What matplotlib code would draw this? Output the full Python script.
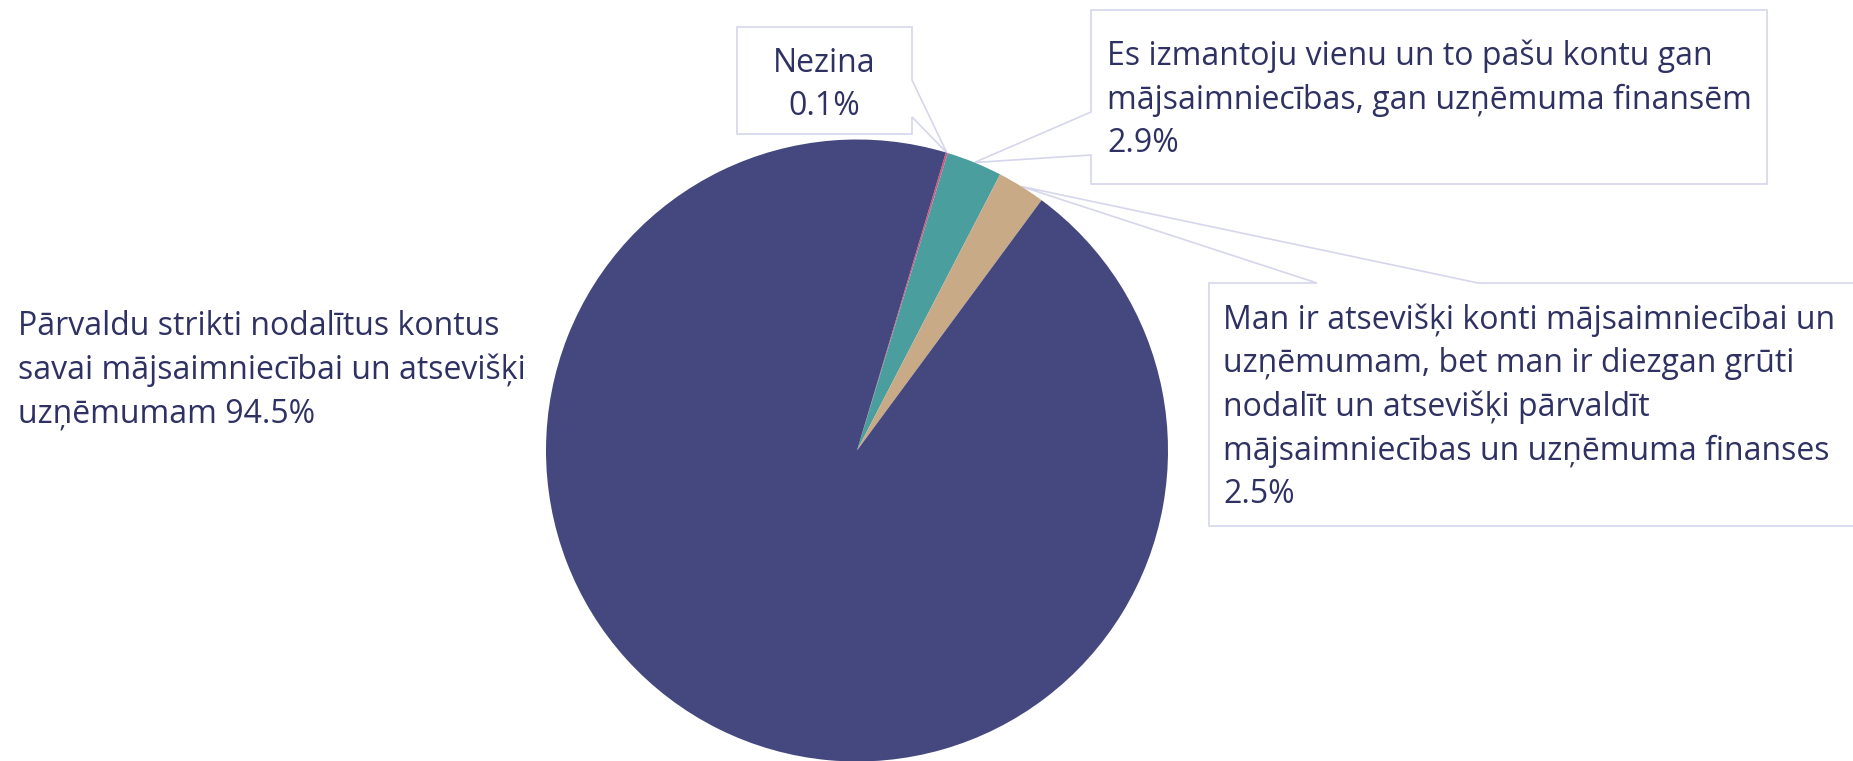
import matplotlib.pyplot as plt
from matplotlib.patches import Polygon
import numpy as np

plt.rcParams['font.family'] = ['Open Sans', 'DejaVu Sans']

W, H = 1853, 761

# data
labels = ['Nezina',
          'Es izmantoju vienu un to pašu kontu gan\nmājsaimniecības, gan uzņēmuma finansēm',
          'Man ir atsevišķi konti mājsaimniecībai un\nuzņēmumam, bet man ir diezgan grūti\n'
          'nodalīt un atsevišķi pārvaldīt\nmājsaimniecības un uzņēmuma finanses',
          'Pārvaldu strikti nodalītus kontus\nsavai mājsaimniecībai un atsevišķi\nuzņēmumam']
values = [0.1, 2.9, 2.5, 94.5]
colors = ['#e0507a', '#4a9e9e', '#c9aa87', '#45487e']
sep = ['\n', '\n', '\n', ' ']

TEXT = '#2f3163'
EDGE = '#d6d6ec'

# label layout (pixels, from top-left): last-line baseline, box, notch side + notch span
text_pos = [(824.5, 115, 'center'), (1107, 152, 'left'), (1223, 503, 'left'), (18, 422, 'left')]
boxes = [(737, 27, 912, 134), (1091, 10, 1767, 184), (1209, 283, 1860, 526), None]
notches = [('right', 80, 117), ('left', 112, 155), ('top', 1317, 1478), None]

fig = plt.figure(figsize=(W / 100, H / 100), dpi=100)
ax = fig.add_axes([0, 0, 1, 1])

cx, cy, r = 857, H - 450.5, 311
wedges, _ = ax.pie(values, colors=colors, startangle=73.4, counterclock=False,
                   center=(cx, cy), radius=r, wedgeprops=dict(linewidth=0))
for w in wedges:
    w.set_zorder(2)


def callout(box, tip, side, a, b):
    x0, y0, x1, y1 = box
    tx, ty = tip
    if side == 'right':
        pts = [(x0, y0), (x1, y0), (x1, a), (tx, ty), (x1, b), (x1, y1), (x0, y1)]
    elif side == 'left':
        pts = [(x0, y0), (x1, y0), (x1, y1), (x0, y1), (x0, b), (tx, ty), (x0, a)]
    else:
        pts = [(x0, y0), (a, y0), (tx, ty), (b, y0), (x1, y0), (x1, y1), (x0, y1)]
    pts = [(x, H - y) for x, y in pts]
    ax.add_patch(Polygon(pts, closed=True, facecolor='white', edgecolor=EDGE,
                         linewidth=1.2, zorder=1))


for i, w in enumerate(wedges):
    mid = np.deg2rad((w.theta1 + w.theta2) / 2)
    tip = (cx + r * np.cos(mid), H - (cy + r * np.sin(mid)))
    if boxes[i] is not None:
        side, a, b = notches[i]
        callout(boxes[i], tip, side, a, b)
    x, y, ha = text_pos[i]
    ax.text(x, H - y, f'{labels[i]}{sep[i]}{values[i]}%', ha=ha, va='baseline',
            multialignment=ha, fontsize=23, color=TEXT, linespacing=1.41, zorder=3)

ax.set_xlim(0, W)
ax.set_ylim(0, H)
ax.axis('off')

plt.savefig('out.png', dpi=100)
